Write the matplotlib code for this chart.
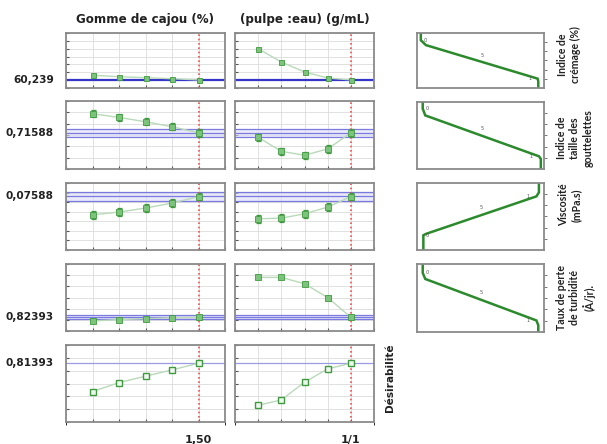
import matplotlib
matplotlib.use("Agg")
import matplotlib.pyplot as plt
import matplotlib.transforms as mtransforms
import numpy as np

W, H = 607, 444

# ---------------- data (in grid units) ----------------
factor_titles = ["Gomme de cajou (%)", "(pulpe :eau) (g/mL)"]
levels = [1, 2, 3, 4, 5]
gum_ticklabels = ["", "", "", "", "1,50"]
ratio_ticklabels = ["", "", "", "", "1/1"]
response_values = ["60,239", "0,71588", "0,07588", "0,82393", "0,81393"]
response_names = ["Indice de\ncrémage (%)",
                  "Indice de\ntaille des\ngouttelettes",
                  "Viscosité\n(mPa.s)",
                  "Taux de perte\nde turbidité\n(Å/jr)."]
desirability_label = "Désirabilité"

creaming_gum = [1.62, 1.44, 1.31, 1.18, 1.03]
creaming_ratio = [5.00, 3.31, 2.04, 1.27, 1.03]
creaming_ref = [1.03]

droplet_gum = [4.88, 4.55, 4.17, 3.73, 3.19]
droplet_ratio = [2.80, 1.56, 1.21, 1.77, 3.19]
droplet_err = [0.33, 0.33, 0.33, 0.33, 0.33]
droplet_band = [2.81, 3.16, 3.49]

visc_gum = [3.68, 3.96, 4.38, 4.90, 5.58]
visc_ratio = [3.26, 3.33, 3.78, 4.48, 5.58]
visc_err = [0.40, 0.40, 0.40, 0.40, 0.40]
visc_band = [5.15, 5.60, 6.06]

turb_gum = [0.90, 1.02, 1.11, 1.19, 1.22]
turb_ratio = [4.80, 4.80, 4.23, 3.00, 1.22]
turb_band = [1.07, 1.24, 1.40]

desir_gum = [2.37, 3.07, 3.57, 4.06, 4.58]
desir_ratio = [1.30, 1.72, 3.10, 4.14, 4.58]
desir_ref = [4.58]

row_divisions = [7, 6, 7, 6, 6]

# desirability function shapes (fraction of panel)
d1_x = [0.03, 0.03, 0.07, 0.95, 0.955, 0.955]
d1_y = [1.00, 0.87, 0.78, 0.17, 0.12, 0.00]
d2_x = [0.045, 0.045, 0.065, 0.96, 0.975, 0.975]
d2_y = [1.00, 0.90, 0.80, 0.19, 0.15, 0.00]
d3_x = [0.05, 0.05, 0.07, 0.94, 0.96, 0.96]
d3_y = [0.00, 0.22, 0.24, 0.80, 0.86, 1.00]
d4_x = [0.045, 0.045, 0.065, 0.94, 0.955, 0.955]
d4_y = [1.00, 0.87, 0.78, 0.17, 0.10, 0.00]
desir_shapes = [(d1_x, d1_y), (d2_x, d2_y), (d3_x, d3_y), (d4_x, d4_y)]
desir_marks = [("0", "5", "1"), ("0", "5", "1"), ("0", "5", "1"), ("0", "5", "1")]

# ---------------- layout ----------------
fig = plt.figure(figsize=(W / 100, H / 100), dpi=100)

def px_axes(x0, x1, y0, y1):
    return fig.add_axes([x0 / W, 1 - y1 / H, (x1 - x0) / W, (y1 - y0) / H])

rows = [(33, 88), (101, 169), (183, 250), (264, 331), (345, 422)]
cols = [(66, 225), (235, 374)]
right_col = (417, 544)
right_rows = [(33, 88), (102, 169), (183, 250), (264, 332)]

frame_col = "#8a8a8a"
grid_col = "#dcdcdc"
green_face = "#7cc47c"
green_edge = "#3f9a3f"
line_col = "#b9d9b9"
red = "#f05050"
blue_dark = "#3535c8"
blue_mid = "#7a7ae0"
band_fill = "#dcdcf6"

series = [
    (creaming_gum, creaming_ratio, None, "single"),
    (droplet_gum, droplet_ratio, droplet_err, "band"),
    (visc_gum, visc_ratio, visc_err, "band"),
    (turb_gum, turb_ratio, None, "band"),
    (desir_gum, desir_ratio, None, "thin"),
]
refs = [creaming_ref, droplet_band, visc_band, turb_band, desir_ref]

for r, ((y0, y1), (g_vals, r_vals, err, kind), ref, ndiv) in enumerate(
        zip(rows, series, refs, row_divisions)):
    for c, ((x0, x1), vals) in enumerate(zip(cols, [g_vals, r_vals])):
        ax = px_axes(x0, x1, y0, y1)
        ax.set_xlim(0, 6)
        ax.set_ylim(0, ndiv)
        ax.set_xticks(range(0, 7))
        ax.set_yticks(range(0, ndiv + 1))
        ax.grid(True, color=grid_col, lw=0.6)
        ax.set_axisbelow(True)
        ax.tick_params(direction="in", length=2, width=0.8, color="#555555",
                       labelleft=False, labelbottom=False)
        for s in ax.spines.values():
            s.set_color(frame_col)
            s.set_linewidth(1.3)
        # reference lines
        if kind == "single":
            ax.axhline(ref[0], color=blue_dark, lw=1.6, zorder=2)
        elif kind == "band":
            ax.axhspan(ref[0], ref[2], color=band_fill, alpha=0.6, lw=0, zorder=1)
            for v in ref:
                ax.axhline(v, color=blue_mid, lw=0.9, zorder=2)
        else:
            ax.axhline(ref[0], color="#9a9ae6", lw=0.9, zorder=2)
        ax.axvline(5, color=red, lw=1.2, ls=(0, (1.0, 1.6)), zorder=2)
        ax.plot(levels, vals, color=line_col, lw=1.0, zorder=3)
        if err is not None:
            ax.errorbar(levels, vals, yerr=err, fmt="none", ecolor=green_edge,
                        elinewidth=0.9, capsize=1.8, capthick=0.9, zorder=4)
        if kind == "thin":
            ax.plot(levels, vals, ls="none", marker="s", ms=4.2, mfc="#eef8ee",
                    mec=green_edge, mew=1.0, zorder=5)
        else:
            ms = 3.6 if r == 0 else 4.4
            ax.plot(levels, vals, ls="none", marker="s", ms=ms, mfc=green_face,
                    mec=green_edge, mew=0.6, zorder=5)
        if r == 4:
            labels = gum_ticklabels if c == 0 else ratio_ticklabels
            ax.set_xticks(levels)
            ax.set_xticklabels(labels, fontsize=8, fontweight="bold", color="#222222")
            ax.tick_params(axis="x", labelbottom=True, pad=9)
            ax.set_xticks(range(0, 7), minor=True)
            ax.grid(True, which="minor", color=grid_col, lw=0.6)
        if r == 0:
            ax.set_title(factor_titles[c], fontsize=8.6, fontweight="bold",
                         color="#222222", pad=7)
        if c == 0:
            trans = mtransforms.blended_transform_factory(fig.transFigure, ax.transData)
            yv = ref[1] if kind == "band" else ref[0]
            ax.text(54 / W, yv, response_values[r], transform=trans, ha="right",
                    va="center", fontsize=7.6, fontweight="bold", color="#222222")
        if c == 1 and r == 4:
            ax.text(390 / W, 0.57, desirability_label, transform=mtransforms.blended_transform_factory(
                fig.transFigure, ax.transAxes), rotation=90, ha="center", va="center",
                fontsize=7.6, fontweight="bold", color="#222222")

# ---------------- right desirability profiles ----------------
label_centers = [(569, 55), (575, 138), (570, 205), (576, 297)]
for i, ((y0, y1), (dx, dy), marks) in enumerate(zip(right_rows, desir_shapes, desir_marks)):
    ax = px_axes(right_col[0], right_col[1], y0, y1)
    ax.set_xlim(0, 1)
    ax.set_ylim(0, 1)
    ax.plot(dx, dy, color="#2b8a2b", lw=1.8, solid_joinstyle="miter")
    ax.set_xticks([])
    ax.yaxis.tick_right()
    ax.set_yticks(np.linspace(0, 1, 7)[1:-1])
    ax.tick_params(axis="y", direction="out", length=1.8, width=0.7,
                   color="#777777", labelright=False)
    for s in ax.spines.values():
        s.set_color(frame_col)
        s.set_linewidth(1.3)
    # small value marks along the curve
    ax.text(dx[1] + 0.02, dy[1], marks[0], fontsize=3.5, color="#555555",
            ha="left", va="center")
    mid = 0.5 * (dx[2] + dx[3]), 0.5 * (dy[2] + dy[3])
    ax.text(mid[0], mid[1] + 0.07, marks[1], fontsize=3.5, color="#555555",
            ha="center", va="bottom")
    ax.text(dx[3] - 0.05, dy[3], marks[2], fontsize=3.5, color="#555555",
            ha="right", va="center")
    cx, cy = label_centers[i]
    fig.text(cx / W, 1 - cy / H, response_names[i], rotation=90, ha="center",
             va="center", multialignment="center", fontsize=7.6,
             family=["Lato", "DejaVu Sans"], fontweight="bold", color="#222222",
             linespacing=1.25)

fig.savefig("out.png", dpi=100, facecolor="white")
